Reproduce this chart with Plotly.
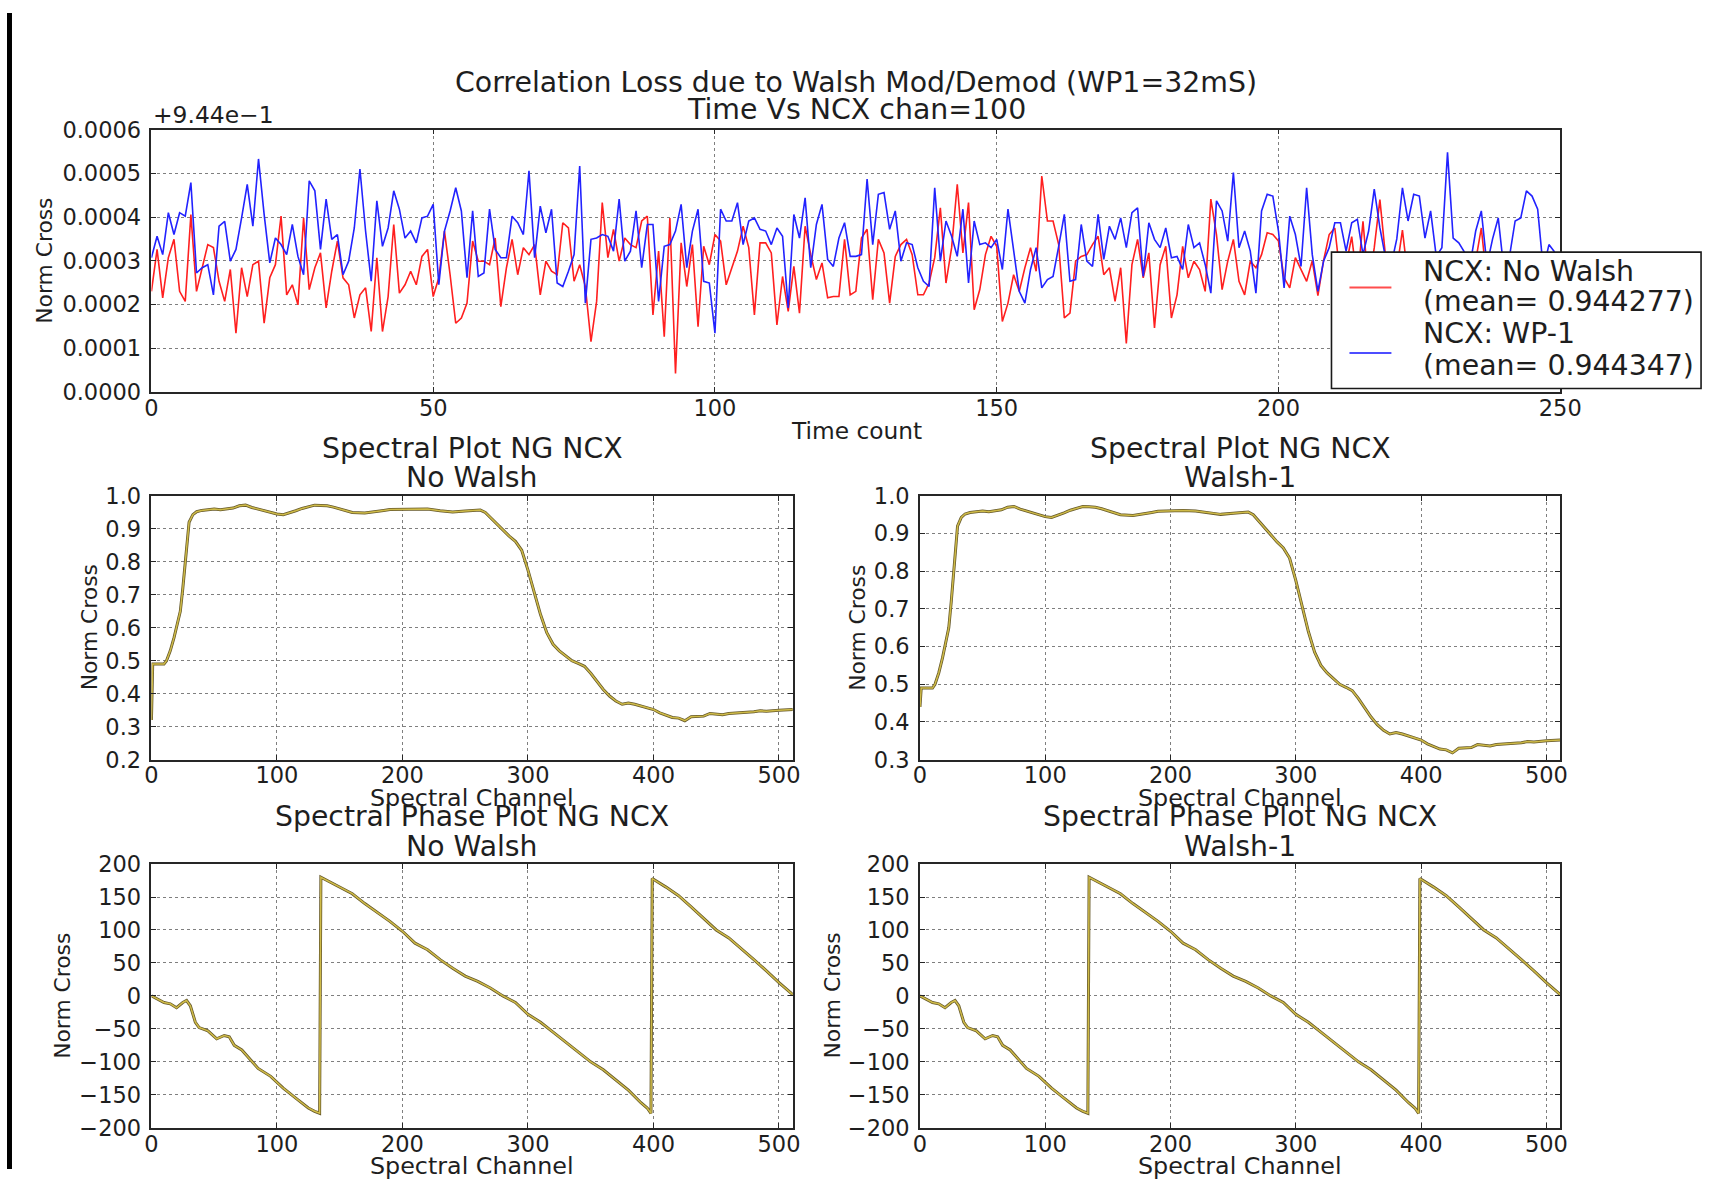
import plotly.graph_objects as go

W, H = 1736, 1182

# Positions below are given in page pixels; the drawing sits slightly inset
# and scaled inside the page, so they are mapped through this frame.
OX, SX = 6.0, 0.985
OY, SY = 11.6, 0.979


def fx(px):
    return (px - OX) / SX / W


def fy(py):
    return 1 - (py - OY) / SY / H


# ---- Time series at chan=100: offsets from 0.944, in units of 1e-4 ----
time_count = list(range(250))

ncx_no_walsh = [
    2.30, 3.26, 2.15, 3.07, 3.49, 2.30, 2.07, 4.06, 2.30, 2.84,
    3.37, 3.30, 2.53, 2.07, 2.80, 1.34, 2.84, 2.18, 2.91, 2.99,
    1.57, 2.61, 2.91, 4.02, 2.22, 2.45, 1.99, 3.98, 2.34, 2.84,
    3.18, 1.92, 2.76, 3.45, 2.61, 2.45, 1.69, 2.22, 2.38, 1.38,
    3.07, 1.38, 2.18, 3.83, 2.26, 2.45, 2.76, 2.45, 3.10, 3.26,
    2.18, 2.61, 3.68, 2.68, 1.57, 1.69, 2.03, 3.45, 2.99, 2.99,
    2.91, 3.52, 1.95, 2.84, 3.49, 2.68, 3.30, 3.14, 3.37, 2.22,
    2.99, 2.76, 2.68, 3.87, 3.75, 2.53, 2.91, 2.41, 1.15, 2.07,
    4.33, 3.07, 3.72, 2.99, 3.52, 3.37, 3.30, 3.91, 4.02, 1.76,
    3.22, 1.26, 3.98, 0.42, 3.41, 2.41, 3.37, 1.49, 3.33, 2.91,
    3.60, 3.45, 2.45, 2.84, 3.22, 3.79, 3.30, 1.76, 3.41, 3.41,
    3.18, 1.53, 2.64, 1.84, 2.87, 1.80, 3.79, 3.14, 2.57, 2.95,
    2.15, 2.18, 2.18, 3.49, 2.22, 2.30, 3.52, 3.72, 2.11, 3.49,
    3.18, 2.03, 3.10, 3.37, 3.49, 3.14, 2.22, 2.22, 2.49, 3.07,
    4.21, 2.49, 3.30, 4.75, 3.18, 4.33, 1.88, 2.34, 3.14, 3.56,
    3.33, 1.61, 2.03, 2.68, 2.30, 2.84, 3.30, 2.76, 4.94, 3.91,
    3.91, 3.37, 1.69, 1.80, 2.99, 3.10, 3.14, 3.37, 3.56, 2.68,
    2.84, 2.07, 2.84, 1.11, 2.91, 3.49, 2.61, 3.18, 1.46, 2.91,
    3.33, 1.69, 2.22, 3.33, 2.61, 2.99, 2.80, 2.30, 4.41, 3.60,
    2.34, 2.99, 3.49, 2.53, 2.22, 2.99, 2.84, 3.14, 3.64, 3.60,
    3.45, 2.61, 2.38, 3.07, 2.80, 2.53, 3.00, 2.20, 3.00, 3.60,
    3.75, 2.60, 2.90, 3.55, 2.50, 3.90, 2.40, 3.30, 4.40, 3.10,
    2.30, 2.80, 3.70, 2.60, 3.00, 2.40, 2.90, 2.20, 3.00, 2.70,
    2.50, 3.10, 2.40, 2.90, 2.60, 3.00, 3.75, 2.50, 2.80, 3.00,
    2.30, 2.90, 2.60, 3.00, 2.40, 2.80, 3.10, 2.50, 2.90, 2.70,
]

ncx_wp1 = [
    3.07, 3.56, 3.14, 4.10, 3.60, 4.10, 4.02, 4.79, 2.72, 2.84,
    2.91, 2.22, 3.79, 3.90, 2.99, 3.26, 3.98, 4.75, 3.79, 5.33,
    4.06, 2.95, 3.52, 3.37, 3.14, 3.83, 3.10, 2.68, 4.83, 4.60,
    3.26, 4.41, 3.49, 3.60, 2.68, 2.99, 3.75, 5.10, 3.68, 2.53,
    4.37, 3.33, 3.75, 4.60, 4.18, 3.52, 3.68, 3.41, 3.98, 4.02,
    4.29, 2.45, 3.68, 4.14, 4.67, 4.14, 2.61, 4.14, 2.64, 2.72,
    4.18, 3.26, 3.07, 3.07, 4.02, 3.87, 3.60, 5.06, 3.07, 4.25,
    3.64, 4.18, 2.49, 2.41, 2.76, 3.14, 5.17, 2.03, 3.49, 3.52,
    3.60, 3.56, 3.22, 4.41, 2.99, 3.22, 4.14, 2.84, 3.83, 3.83,
    2.07, 3.33, 3.37, 3.68, 4.29, 2.84, 3.68, 4.18, 2.53, 2.49,
    1.34, 4.18, 3.91, 3.91, 4.33, 3.37, 3.91, 3.98, 3.72, 3.68,
    3.37, 3.75, 3.56, 1.92, 4.06, 3.52, 4.44, 2.84, 3.83, 4.29,
    3.03, 2.87, 3.52, 3.87, 3.10, 3.10, 3.14, 4.87, 3.37, 4.52,
    4.56, 3.72, 4.14, 2.99, 3.41, 3.37, 2.84, 2.53, 2.41, 4.67,
    2.99, 3.91, 3.56, 3.10, 4.18, 2.49, 3.91, 3.37, 3.41, 3.30,
    3.49, 2.80, 4.18, 3.20, 2.30, 2.03, 2.80, 3.30, 2.38, 2.57,
    2.64, 3.33, 4.06, 2.53, 2.57, 3.83, 2.99, 2.87, 4.06, 3.03,
    3.79, 3.49, 3.98, 3.30, 4.10, 4.21, 2.64, 3.87, 3.49, 3.30,
    3.75, 3.07, 3.10, 2.80, 3.83, 3.30, 3.41, 2.91, 2.26, 4.37,
    4.14, 3.45, 5.02, 3.30, 3.68, 3.22, 2.26, 4.14, 4.52, 4.48,
    3.68, 2.38, 4.02, 3.60, 2.87, 4.67, 3.14, 2.30, 2.99, 3.30,
    3.87, 3.87, 3.22, 3.87, 3.95, 3.14, 3.68, 4.64, 3.75, 3.07,
    2.90, 3.50, 4.67, 3.91, 4.52, 4.48, 3.52, 4.14, 3.10, 3.30,
    5.48, 3.52, 3.41, 3.20, 2.90, 3.68, 4.14, 2.90, 3.50, 3.98,
    2.80, 3.10, 3.91, 3.98, 4.60, 4.48, 4.18, 2.80, 3.37, 3.20,
]

legend_no_walsh = ["NCX: No Walsh", "(mean= 0.944277)"]
legend_wp1 = ["NCX: WP-1", "(mean= 0.944347)"]

# ---- Spectral amplitude (Norm Cross) vs channel ----
amp_channels = [
    0, 1, 5, 10, 12, 15, 18, 20, 23, 25, 28, 30, 33, 36, 40, 45, 50, 55, 60,
    65, 70, 75, 80, 85, 90, 95, 100, 105, 110, 115, 120, 125, 130, 135, 140,
    145, 150, 155, 160, 170, 180, 185, 190, 200, 210, 220, 230, 235, 240, 250,
    255, 262, 266, 270, 275, 280, 285, 290, 295, 300, 305, 310, 315, 320, 325,
    330, 335, 340, 345, 350, 355, 360, 365, 370, 375, 380, 385, 390, 395, 400,
    405, 410, 415, 420, 425, 430, 435, 440, 445, 450, 455, 460, 470, 480, 485,
    490, 500, 505, 511,
]
amp_no_walsh = [
    0.32, 0.49, 0.49, 0.49, 0.50, 0.53, 0.57, 0.60, 0.65, 0.72, 0.84, 0.92,
    0.943, 0.952, 0.956, 0.958, 0.960, 0.958, 0.960, 0.963, 0.970, 0.972,
    0.965, 0.960, 0.955, 0.950, 0.945, 0.943, 0.948, 0.955, 0.962, 0.968,
    0.972, 0.971, 0.970, 0.966, 0.960, 0.954, 0.950, 0.948, 0.952, 0.956,
    0.959, 0.960, 0.961, 0.960, 0.955, 0.952, 0.951, 0.954, 0.956, 0.957,
    0.950, 0.935, 0.915, 0.895, 0.878, 0.862, 0.835, 0.775, 0.705, 0.640,
    0.585, 0.550, 0.530, 0.515, 0.500, 0.492, 0.483, 0.462, 0.438, 0.413,
    0.393, 0.378, 0.368, 0.372, 0.368, 0.362, 0.358, 0.352, 0.342, 0.334,
    0.328, 0.326, 0.318, 0.330, 0.331, 0.332, 0.340, 0.338, 0.336, 0.340,
    0.342, 0.345, 0.348, 0.347, 0.350, 0.351, 0.352,
]
amp_walsh1 = [0.44] + amp_no_walsh[1:]

# ---- Spectral phase (degrees) vs channel ----
phase_channels = [
    0, 5, 10, 15, 20, 25, 28, 31, 35, 38, 45, 52, 58, 62, 66, 72, 78, 85, 95,
    105, 115, 125, 130, 134, 135, 140, 150, 160, 170, 180, 190, 200, 210, 220,
    230, 240, 250, 260, 270, 280, 290, 300, 310, 320, 330, 340, 350, 360, 370,
    380, 390, 395, 398, 399, 410, 420, 430, 440, 450, 460, 470, 480, 490, 500,
    511,
]
phase_no_walsh = [
    0, -5, -10, -12, -18, -10, -7, -15, -40, -48, -53, -65, -60, -62, -75, -82,
    -95, -110, -122, -140, -155, -170, -175, -178, 180, 175, 165, 155, 140, 127,
    113, 98, 80, 70, 55, 42, 30, 22, 12, 0, -10, -28, -40, -55, -70, -85, -100,
    -112, -127, -143, -162, -170, -178, 178, 165, 152, 135, 118, 100, 88, 72,
    55, 38, 20, 2,
]
phase_walsh1 = list(phase_no_walsh)

FONT = "DejaVu Sans"
INK = "#1e1e1e"
RED = "#ff1f1f"
BLUE = "#2222ff"
OLIVE_DARK = "#65582a"
OLIVE = "#cfbb48"

fig = go.Figure()

# top panel: two time series
fig.add_trace(go.Scatter(x=time_count, y=[v * 1e-4 for v in ncx_no_walsh],
                         mode="lines", line=dict(color=RED, width=1.6),
                         xaxis="x", yaxis="y", showlegend=False))
fig.add_trace(go.Scatter(x=time_count, y=[v * 1e-4 for v in ncx_wp1],
                         mode="lines", line=dict(color=BLUE, width=1.6),
                         xaxis="x", yaxis="y", showlegend=False))


def spectral(xs, ys, n):
    xa, ya = ("x%d" % n, "y%d" % n)
    fig.add_trace(go.Scatter(x=xs, y=ys, mode="lines",
                             line=dict(color=OLIVE_DARK, width=3.0),
                             xaxis=xa, yaxis=ya, showlegend=False))
    fig.add_trace(go.Scatter(x=xs, y=ys, mode="lines",
                             line=dict(color=OLIVE, width=1.5),
                             xaxis=xa, yaxis=ya, showlegend=False))


spectral(amp_channels, amp_no_walsh, 2)
spectral(amp_channels, amp_walsh1, 3)
spectral(phase_channels, phase_no_walsh, 4)
spectral(phase_channels, phase_walsh1, 5)

axis_common = dict(
    showline=True, linecolor="#262626", linewidth=1.6, mirror="ticks",
    ticks="inside", ticklen=5, tickwidth=1, tickcolor="#262626",
    showgrid=True, gridcolor="rgba(0,0,0,0.5)", griddash="dot", gridwidth=1,
    zeroline=False, tickfont=dict(family=FONT, size=22.5, color=INK),
)
x_common = dict(axis_common, ticklabelstandoff=-5)
y_common = dict(axis_common, ticklabelstandoff=4)

LX = [fx(150.6), fx(792.7)]
RX = [fx(920.0), fx(1561.0)]
MID_Y = [fy(759.0), fy(495.0)]
BOT_Y = [fy(1127.5), fy(863.5)]

fig.update_layout(
    width=W, height=H,
    margin=dict(l=0, r=0, t=0, b=0),
    paper_bgcolor="white", plot_bgcolor="white",
    font=dict(family=FONT, color=INK),
    xaxis=dict(x_common, domain=[fx(150.6), fx(1561.0)], range=[0, 250],
               dtick=50, anchor="y"),
    yaxis=dict(y_common, domain=[fy(390.8), fy(128.4)], range=[0, 0.0006],
               dtick=0.0001, tickformat=".4f", anchor="x"),
    xaxis2=dict(x_common, domain=LX, range=[0, 511], dtick=100, anchor="y2"),
    yaxis2=dict(y_common, domain=MID_Y, range=[0.2, 1.0], dtick=0.1,
                tickformat=".1f", anchor="x2"),
    xaxis3=dict(x_common, domain=RX, range=[0, 511], dtick=100, anchor="y3"),
    yaxis3=dict(y_common, domain=MID_Y, range=[0.3, 1.0], dtick=0.1,
                tickformat=".1f", anchor="x3"),
    xaxis4=dict(x_common, domain=LX, range=[0, 511], dtick=100, anchor="y4"),
    yaxis4=dict(y_common, domain=BOT_Y, range=[-200, 200], dtick=50,
                anchor="x4"),
    xaxis5=dict(x_common, domain=RX, range=[0, 511], dtick=100, anchor="y5"),
    yaxis5=dict(y_common, domain=BOT_Y, range=[-200, 200], dtick=50,
                anchor="x5"),
)

annotations = []


def text(px, py, s, size=22, xanchor="center", angle=0):
    annotations.append(dict(
        x=fx(px), y=fy(py), xref="paper", yref="paper", text=s,
        showarrow=False, xanchor=xanchor, yanchor="middle", textangle=angle,
        font=dict(family=FONT, size=size, color=INK),
    ))


# figure / panel titles
text(856, 81, "Correlation Loss due to Walsh Mod/Demod (WP1=32mS)", 28.4)
text(856, 108.5, "Time Vs NCX chan=100", 28.4)
text(471.6, 448, "Spectral Plot NG NCX", 28.3)
text(471.6, 477, "No Walsh", 28.3)
text(1240.5, 448, "Spectral Plot NG NCX", 28.3)
text(1240.5, 477, "Walsh-1", 28.3)
text(471.6, 816, "Spectral Phase Plot NG NCX", 28.3)
text(471.6, 846, "No Walsh", 28.3)
text(1240.5, 816, "Spectral Phase Plot NG NCX", 28.3)
text(1240.5, 846, "Walsh-1", 28.3)

# axis titles
text(44, 259.6, "Norm Cross", 21.8, angle=-90)
text(856, 429.5, "Time count", 23.3)
text(88.6, 627, "Norm Cross", 21.8, angle=-90)
text(858, 627, "Norm Cross", 21.8, angle=-90)
text(471.6, 797, "Spectral Channel", 23.8)
text(1240.5, 797, "Spectral Channel", 23.8)
text(62, 995.5, "Norm Cross", 21.8, angle=-90)
text(832.5, 995.5, "Norm Cross", 21.8, angle=-90)
text(471.6, 1166, "Spectral Channel", 23.8)
text(1240.5, 1166, "Spectral Channel", 23.8)

# axis offset label of the top panel
text(150.6, 114, "+9.44e\u22121", 23.4, xanchor="left")

# legend entries
text(1421.5, 270, legend_no_walsh[0], 28.4, xanchor="left")
text(1421.5, 300, legend_no_walsh[1], 28.4, xanchor="left")
text(1421.5, 332, legend_wp1[0], 28.4, xanchor="left")
text(1421.5, 364, legend_wp1[1], 28.4, xanchor="left")

shapes = [
    # legend frame and line samples
    dict(type="rect", xref="paper", yref="paper", layer="above",
         x0=fx(1332), x1=fx(1702), y0=fy(387.5), y1=fy(251),
         fillcolor="white", line=dict(color="#1a1a1a", width=1.6)),
    dict(type="line", xref="paper", yref="paper", layer="above",
         x0=fx(1350), x1=fx(1392), y0=fy(286.5), y1=fy(286.5),
         line=dict(color="#ff4d4d", width=2)),
    dict(type="line", xref="paper", yref="paper", layer="above",
         x0=fx(1350), x1=fx(1392), y0=fy(352), y1=fy(352),
         line=dict(color="#4d4dff", width=2)),
    # dark window edge along the left side
    dict(type="rect", xref="paper", yref="paper", layer="above",
         x0=0, x1=fx(11), y0=0, y1=1, fillcolor="black",
         line=dict(width=0)),
]

fig.update_layout(annotations=annotations, shapes=shapes)

fig.write_html("out.html")
